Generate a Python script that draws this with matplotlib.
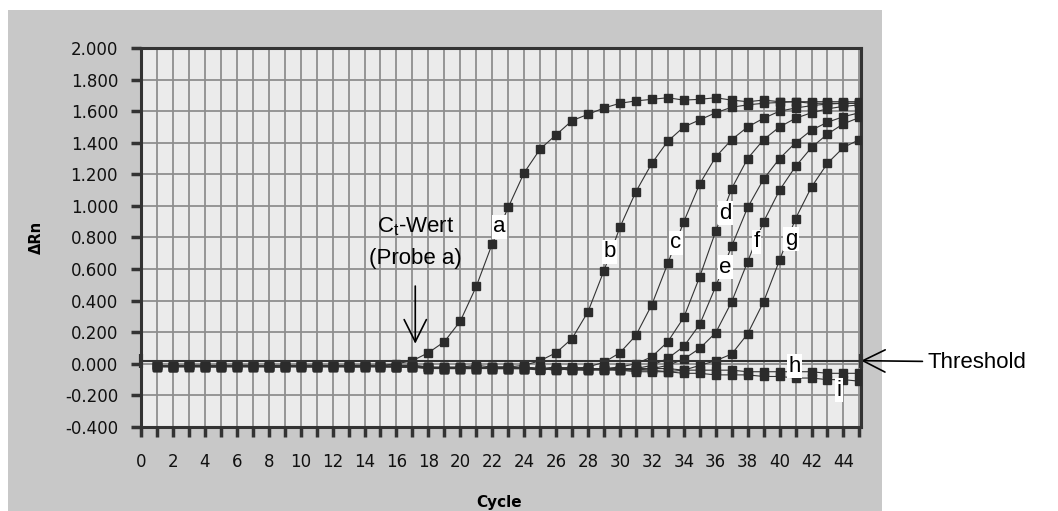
import matplotlib
matplotlib.use('Agg')
import matplotlib.pyplot as plt
from matplotlib.patches import Rectangle

plt.rcParams['mathtext.fontset'] = 'custom'
plt.rcParams['mathtext.rm'] = 'Liberation Sans'
plt.rcParams['mathtext.it'] = 'Liberation Sans'

# amplification curves, delta Rn per cycle (cycles 1..45)
cycles = list(range(1, 46))

curve_a = [-0.01, -0.02, -0.01, -0.02, -0.01, -0.01, -0.01, -0.02, -0.01, -0.01,
           -0.02, -0.01, -0.01, -0.01, -0.01, 0.00, 0.02,
           0.07, 0.14, 0.27, 0.49, 0.76, 0.99, 1.21, 1.36, 1.45, 1.54, 1.58, 1.62,
           1.65, 1.665, 1.675, 1.685, 1.67, 1.675, 1.685, 1.67, 1.66, 1.67, 1.66,
           1.66, 1.65, 1.65, 1.65, 1.65]
curve_b = [-0.01, -0.02, -0.01, -0.01, -0.02, -0.01, -0.02, -0.01, -0.01, -0.02,
           -0.01, -0.02, -0.01, -0.01, -0.02, -0.01, -0.01, -0.02, -0.02, -0.02,
           -0.01, -0.02, -0.02, -0.01, 0.02,
           0.07, 0.16, 0.33, 0.59, 0.865, 1.09, 1.27, 1.41, 1.50, 1.545, 1.59,
           1.625, 1.64, 1.65, 1.655, 1.66, 1.66, 1.66, 1.66, 1.66]
curve_c = [-0.02, -0.01, -0.02, -0.01, -0.01, -0.02, -0.01, -0.02, -0.01, -0.02,
           -0.01, -0.01, -0.02, -0.01, -0.02, -0.01, -0.02, -0.02, -0.03, -0.02,
           -0.02, -0.03, -0.02, -0.03, -0.03, -0.02, -0.03, -0.02, 0.01,
           0.07, 0.18, 0.375, 0.636, 0.90, 1.14, 1.31, 1.42, 1.50, 1.555, 1.60,
           1.62, 1.635, 1.645, 1.65, 1.65]
curve_d = [-0.01, -0.02, -0.02, -0.01, -0.02, -0.01, -0.01, -0.02, -0.02, -0.01,
           -0.02, -0.01, -0.02, -0.01, -0.01, -0.02, -0.02, -0.02, -0.03, -0.02,
           -0.03, -0.02, -0.02, -0.03, -0.03, -0.03, -0.04, -0.03, -0.03, -0.02,
           0.00,
           0.045, 0.14, 0.294, 0.552, 0.84, 1.11, 1.30, 1.42, 1.50, 1.555, 1.59,
           1.615, 1.63, 1.64]
curve_e = [-0.02, -0.01, -0.01, -0.02, -0.01, -0.02, -0.02, -0.01, -0.02, -0.01,
           -0.01, -0.02, -0.02, -0.01, -0.02, -0.02, -0.01, -0.03, -0.02, -0.03,
           -0.02, -0.03, -0.03, -0.02, -0.03, -0.04, -0.03, -0.04, -0.03, -0.04,
           -0.03, -0.01,
           0.035, 0.11, 0.25, 0.49, 0.745, 0.99, 1.17, 1.30, 1.40, 1.48, 1.53,
           1.565, 1.59]
curve_f = [-0.01, -0.02, -0.01, -0.02, -0.02, -0.01, -0.02, -0.02, -0.01, -0.02,
           -0.02, -0.01, -0.02, -0.02, -0.01, -0.02, -0.02, -0.02, -0.03, -0.03,
           -0.02, -0.03, -0.03, -0.03, -0.04, -0.03, -0.04, -0.04, -0.03, -0.04,
           -0.04, -0.03, -0.01,
           0.03, 0.098, 0.197, 0.393, 0.647, 0.90, 1.10, 1.25, 1.37, 1.455, 1.52,
           1.56]
curve_g = [-0.02, -0.01, -0.02, -0.02, -0.01, -0.02, -0.01, -0.02, -0.02, -0.01,
           -0.02, -0.02, -0.01, -0.02, -0.01, -0.02, -0.02, -0.03, -0.02, -0.03,
           -0.03, -0.02, -0.03, -0.03, -0.03, -0.04, -0.03, -0.04, -0.04, -0.03,
           -0.04, -0.04, -0.05, -0.04, -0.01,
           0.02, 0.062, 0.19, 0.393, 0.657, 0.92, 1.12, 1.27, 1.37, 1.42]
curve_h = [-0.01, -0.02, -0.01, -0.01, -0.02, -0.01, -0.02, -0.01, -0.02, -0.01,
           -0.01, -0.02, -0.01, -0.02, -0.01, -0.02, -0.01, -0.02, -0.03, -0.02,
           -0.03, -0.02, -0.03, -0.02, -0.03, -0.03, -0.02, -0.03, -0.03, -0.03,
           -0.03, -0.03, -0.03, -0.04, -0.04, -0.04, -0.04, -0.05, -0.05, -0.05,
           -0.05, -0.05, -0.06, -0.06, -0.06]
curve_i = [-0.02, -0.02, -0.01, -0.02, -0.02, -0.02, -0.01, -0.02, -0.02, -0.02,
           -0.02, -0.01, -0.02, -0.02, -0.02, -0.02, -0.02, -0.03, -0.03, -0.03,
           -0.03, -0.03, -0.03, -0.03, -0.03, -0.03, -0.03, -0.03,
           -0.04, -0.04, -0.05, -0.05, -0.05, -0.06, -0.06, -0.07, -0.07, -0.07,
           -0.08, -0.08, -0.09, -0.09, -0.10, -0.10, -0.11]

curves = [curve_a, curve_b, curve_c, curve_d, curve_e, curve_f, curve_g, curve_h, curve_i]
curve_names = ['a', 'b', 'c', 'd', 'e', 'f', 'g', 'h', 'i']
threshold = 0.02

x_ticks = [0, 2, 4, 6, 8, 10, 12, 14, 16, 18, 20, 22, 24, 26, 28, 30, 32, 34, 36, 38, 40, 42, 44]
x_tick_labels = ['0', '2', '4', '6', '8', '10', '12', '14', '16', '18', '20', '22',
                 '24', '26', '28', '30', '32', '34', '36', '38', '40', '42', '44']
y_ticks = [-0.4, -0.2, 0.0, 0.2, 0.4, 0.6, 0.8, 1.0, 1.2, 1.4, 1.6, 1.8, 2.0]
y_tick_labels = ['-0.400', '-0.200', '0.000', '0.200', '0.400', '0.600', '0.800',
                 '1.000', '1.200', '1.400', '1.600', '1.800', '2.000']

# where the letters sit (data coords)
label_pos = {'a': (22.46, 0.868), 'b': (29.36, 0.71), 'c': (33.5, 0.767),
             'd': (36.6, 0.953), 'e': (36.6, 0.611), 'f': (38.56, 0.773),
             'g': (40.73, 0.788), 'h': (40.94, -0.014), 'i': (43.7, -0.166)}

W, H = 1058, 511
fig = plt.figure(figsize=(W / 100, H / 100), dpi=100)
fig.patch.set_facecolor('white')
fig.patches.append(Rectangle((8 / W, 0), (882 - 8) / W, (H - 10) / H,
                             transform=fig.transFigure, facecolor='#c8c8c8',
                             edgecolor='none', zorder=-10))

ax = fig.add_axes([141 / W, (H - 427) / H, 720 / W, 379 / H])
ax.set_facecolor('#ebebeb')
ax.set_xlim(0, 45.1)
ax.set_ylim(-0.4, 2.0)
ax.set_axisbelow(True)

for vals in curves:
    assert len(vals) == len(cycles)
    ax.plot(cycles, vals, color='#333333', lw=0.8, marker='s', ms=5.7,
            mfc='#2b2b2b', mec='#2b2b2b', zorder=3)

ax.axhline(threshold, color='#333333', lw=1.5, zorder=4)
ax.plot([0, 45.1], [threshold, threshold], ls='none', marker='|', ms=10, mew=3,
        color='#333333', clip_on=False, zorder=4)

for name in curve_names:
    x, y = label_pos[name]
    ax.text(x, y, name, fontsize=16, family='Liberation Sans', ha='center', va='center',
            bbox=dict(facecolor='white', edgecolor='none', pad=1.2), zorder=5)

ax.text(17.18, 0.868, r'C$_\mathrm{t}$-Wert', fontsize=16, family='Liberation Sans',
        ha='center', va='center', zorder=5)
ax.text(17.18, 0.668, '(Probe a)', fontsize=16, family='Liberation Sans',
        ha='center', va='center', zorder=5)
ax.annotate('', xy=(17.18, 0.11), xytext=(17.18, 0.51),
            arrowprops=dict(arrowstyle='->,head_length=0.8,head_width=0.4',
                            color='black', lw=1.2, mutation_scale=20), zorder=5)

ax.annotate('Threshold', xy=(45.1, threshold), xycoords='data',
            xytext=(928, H - 362), textcoords='figure pixels',
            fontsize=16, family='Liberation Sans', ha='left', va='center',
            annotation_clip=False,
            arrowprops=dict(arrowstyle='->,head_length=0.8,head_width=0.4',
                            color='black', lw=1.2, mutation_scale=20,
                            shrinkA=2, shrinkB=0))

ax.set_xticks(x_ticks)
ax.set_xticklabels(x_tick_labels)
ax.set_xticks(range(1, 46, 2), minor=True)
ax.set_yticks(y_ticks)
ax.set_yticklabels(y_tick_labels)

ax.grid(which='both', axis='x', color='#8e8e8e', lw=1.3)
ax.grid(which='major', axis='y', color='#8e8e8e', lw=1.3)

for s in ax.spines.values():
    s.set_color('#333333')
    s.set_linewidth(2.2)

ax.tick_params(axis='both', which='both', direction='out', length=7.5, width=2.5,
               color='#333333', labelsize=12, labelcolor='#111111')
ax.tick_params(axis='y', pad=9)
ax.tick_params(axis='x', which='both', pad=11)

fig.text(36 / W, 1 - 237 / H, 'ΔRn', rotation=90, fontweight='bold', fontsize=10.5,
         ha='center', va='center')
fig.text(499.5 / W, 1 - 502.7 / H, 'Cycle', fontweight='bold', fontsize=11,
         ha='center', va='center')

fig.savefig('out.png', dpi=100)
